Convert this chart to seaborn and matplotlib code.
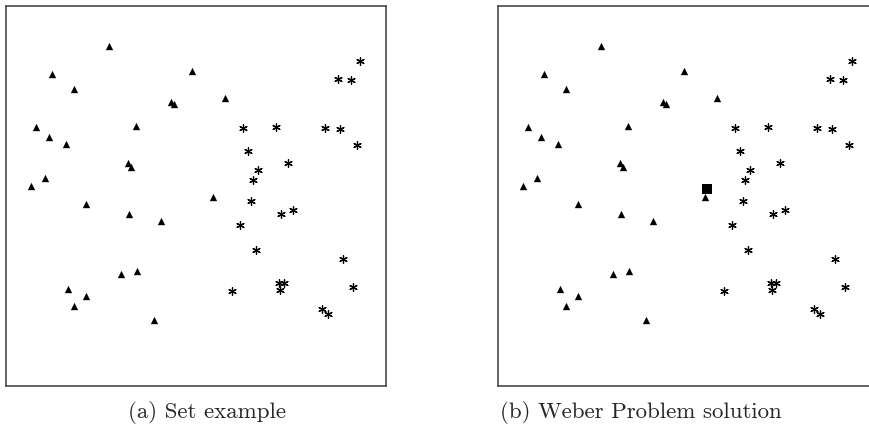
import matplotlib
matplotlib.use("Agg")
import matplotlib.pyplot as plt
import seaborn as sns
import pandas as pd

# Points (coordinate system 0..100 inside each box)
tri_x = [27.2, 12.2, 18.0, 48.9, 43.4, 44.2, 7.8, 34.3, 11.4, 15.8, 32.1, 32.8, 10.3,
         6.5, 21.1, 32.3, 40.7, 57.7, 54.5, 30.3, 34.6, 16.4, 21.0, 17.9, 38.9]
tri_y = [89.5, 82.0, 78.1, 83.0, 74.7, 74.3, 68.1, 68.4, 65.6, 63.7, 58.8, 57.7, 54.7,
         52.7, 47.9, 45.3, 43.3, 75.9, 49.8, 29.6, 30.2, 25.5, 23.6, 21.0, 17.4]

ast_x = [93.2, 87.4, 90.7, 62.4, 71.1, 84.0, 88.0, 92.4, 63.7, 74.2, 66.3, 65.1, 64.6,
         72.4, 75.5, 61.6, 65.9, 88.6, 71.9, 73.1, 72.2, 59.6, 91.4, 83.2, 84.7]
ast_y = [85.5, 80.8, 80.4, 67.8, 68.1, 68.0, 67.7, 63.4, 61.8, 58.6, 56.8, 54.3, 48.7,
         45.3, 46.3, 42.4, 35.8, 33.3, 27.0, 27.0, 25.3, 25.0, 26.1, 20.2, 18.9]

weber_x = [55.1]
weber_y = [51.8]

captions = ["(a) Set example", "(b) Weber Problem solution"]

tri_df = pd.DataFrame({"x": tri_x, "y": tri_y})
ast_df = pd.DataFrame({"x": ast_x, "y": ast_y})
web_df = pd.DataFrame({"x": weber_x, "y": weber_y})

sns.set_style("white")
fig = plt.figure(figsize=(8.69, 4.32), dpi=100)

W, H = 869, 432
boxes = [(6, 6, 380, 380), (498, 6, 380, 380)]
axes = []
for (l, t, w, h) in boxes:
    ax = fig.add_axes([l / W, (H - t - h) / H, w / W, h / H])
    axes.append(ax)

for i, ax in enumerate(axes):
    sns.scatterplot(data=tri_df, x="x", y="y", ax=ax, marker="^", s=28,
                    color="black", linewidth=0, legend=False)
    sns.scatterplot(data=ast_df, x="x", y="y", ax=ax, marker=(6, 2, 0), s=30,
                    color="black", linewidth=0.9, legend=False)
    if i == 1:
        sns.scatterplot(data=web_df, x="x", y="y", ax=ax, marker="s", s=55,
                        color="black", linewidth=0, legend=False)
    ax.set_xlim(0, 100)
    ax.set_ylim(0, 100)
    ax.set_xticks([])
    ax.set_yticks([])
    ax.set_xlabel("")
    ax.set_ylabel("")
    for sp in ax.spines.values():
        sp.set_visible(True)
        sp.set_color("#4a4a4a")
        sp.set_linewidth(1.2)

fig.text(207 / W, 1 - 413 / H, captions[0], ha="center", va="center",
         fontsize=16.5, fontfamily="cmr10")
fig.text(500 / W, 1 - 413 / H, captions[1], ha="left", va="center",
         fontsize=16.5, fontfamily="cmr10")

fig.savefig("out.png", dpi=100)
